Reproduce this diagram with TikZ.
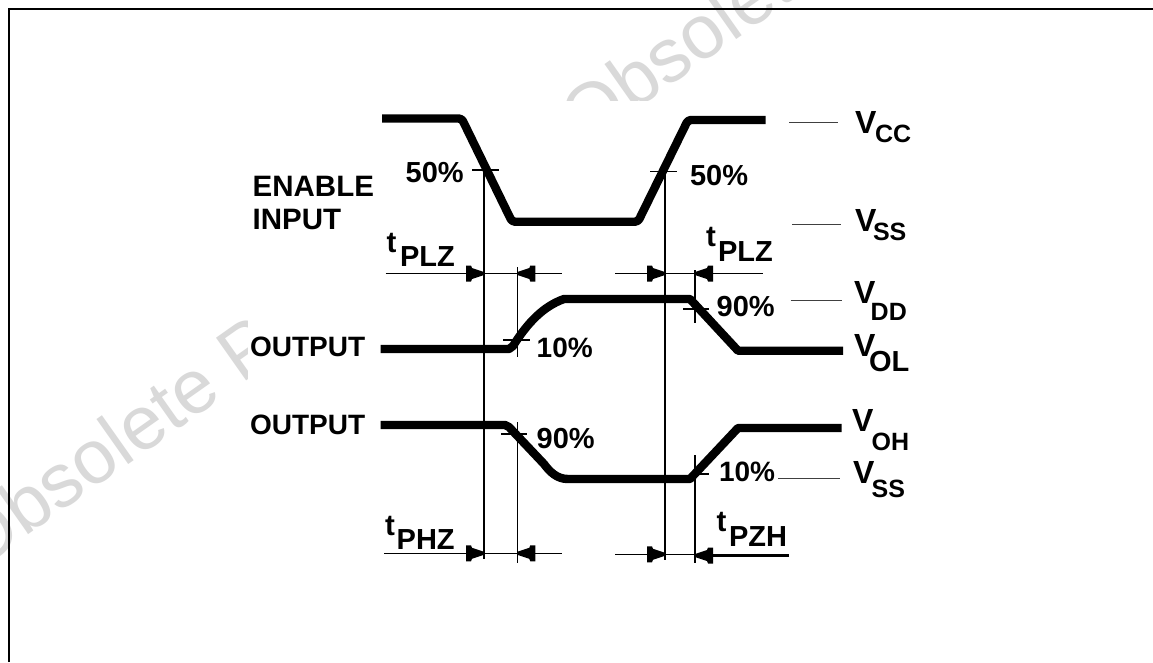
\documentclass[tikz,border=0pt]{standalone}
\usepackage{fontspec}
\setmainfont{Liberation Sans}
\definecolor{wm}{HTML}{D9D9D9}
\tikzset{
  wave/.style={line width=8.4pt,line join=round,rounded corners=3pt},
  thinline/.style={line width=1.2pt,black},
  levelline/.style={line width=1.2pt,black!75},
  dimline/.style={line width=1.1pt,black},
  frameline/.style={line width=2.4pt,black},
  tipshape/.pic={\fill[black] (0,-1.5) -- (-12,-5.5) -- (-13,-8) -- (-18,-8) -- (-18,8) -- (-13,8) -- (-12,5.5) -- (0,1.5) -- cycle;},
  lab/.style={anchor=base west,inner sep=0pt,outer sep=0pt,font=\fontsize{29.5}{29.5}\selectfont\bfseries},
  outlab/.style={lab,font=\fontsize{28}{28}\selectfont\bfseries},
  pct/.style={lab,font=\fontsize{29}{29}\selectfont\bfseries},
  pcts/.style={lab,font=\fontsize{28}{28}\selectfont\bfseries},
  sub/.style={lab,font=\fontsize{29}{29}\selectfont\bfseries},
  subs/.style={lab,font=\fontsize{25}{25}\selectfont\bfseries},
  big/.style={lab,font=\fontsize{32}{32}\selectfont\bfseries},
  watermark/.style={anchor=base west,inner sep=0pt,outer sep=0pt,text=wm,rotate=35.2,font=\fontsize{76}{76}\selectfont}
}
\begin{document}
\begin{tikzpicture}[x=1pt,y=-1pt]
\useasboundingbox (0,0) rectangle (1153,662);
\fill[white] (0,0) rectangle (1153,662);
% watermark
\node[watermark] (wma) at (-24,572) {Obsolete P};
\node[watermark] (wmb) at (584,147) {Obsolet};
\fill[white] (248,101) rectangle (1153,662);
% frame
\draw[frameline] (9,662) -- (9,9) -- (1153,9);
% thin verticals
\draw[thinline] (484,170) -- (484,559);
\draw[thinline] (665,171) -- (665,560);
\draw[thinline] (517.3,267) -- (517.3,357);
\draw[thinline] (517.3,422) -- (517.3,563);
\draw[thinline] (695,270) -- (695,323);
\draw[thinline] (695,455) -- (695,563);
% ticks
\draw[thinline] (472,170) -- (499,170);
\draw[thinline] (650,171.5) -- (677,171.5);
\draw[thinline] (503,340) -- (530,340);
\draw[thinline] (683,309) -- (709,309);
\draw[thinline] (501,434) -- (527,434);
\draw[thinline] (695,474) -- (709,474);
% waveforms
\draw[wave] (382,118.5) -- (461.7,118.5) -- (512,221.7) -- (638,221.7) -- (688,120) -- (765.7,120);
\draw[line width=8.4pt,line join=round] (380.7,349) -- (509,349) -- (513,346) .. controls (528,322) and (544,306) .. (564,299) -- (690,299) -- (738,350.7) -- (843,350.7);
\draw[line width=8.4pt,line join=round] (380.7,425) -- (505,425) -- (509,427) -- (544,464) .. controls (550,472) and (557,479) .. (568,479) -- (690,479) -- (738,428) -- (841.7,428);
% dimension lines
\coordinate (d1a) at (385.7,273.5); \coordinate (d1b) at (484,273.5);
\coordinate (d1c) at (562,273.5); \coordinate (d1d) at (517.3,273.5);
\coordinate (d2a) at (615,273.5); \coordinate (d2b) at (665,273.5);
\coordinate (d2c) at (763,273.5); \coordinate (d2d) at (695,273.5);
\coordinate (d3a) at (384,553.3); \coordinate (d3b) at (484,553.3);
\coordinate (d3c) at (561.7,553.3); \coordinate (d3d) at (517.3,553.3);
\coordinate (d4a) at (615,554.3); \coordinate (d4b) at (665,554.3);
\coordinate (d4c) at (789,555.5); \coordinate (d4d) at (695,555.5);
\coordinate (d4e) at (695,554.3);
\draw[dimline] (d1a) -- (d1b) -- (d1d) -- (d1c);
\draw[dimline] (d2a) -- (d2b) -- (d2d) -- (d2c);
\draw[dimline] (d3a) -- (d3b) -- (d3d) -- (d3c);
\draw[dimline] (d4a) -- (d4b) -- (d4e);
\draw[line width=2.4pt] (d4c) -- (d4d);
\pic at (d1b) {tipshape};
\pic[xscale=-1] at (d1d) {tipshape};
\pic at (d2b) {tipshape};
\pic[xscale=-1] at (d2d) {tipshape};
\pic at (d3b) {tipshape};
\pic[xscale=-1] at (d3d) {tipshape};
\pic at (d4b) {tipshape};
\pic[xscale=-1] at (d4d) {tipshape};
% level lines
\draw[levelline] (789.3,122.7) -- (837.7,122.7);
\draw[levelline] (792,224.3) -- (840.5,224.3);
\draw[levelline] (790.7,300.7) -- (842,300.7);
\draw[levelline] (778,478.7) -- (840,478.7);
% labels
\node[lab] (en) at (252.7,196.7) {ENABLE};
\node[lab] (inp) at (252.7,229) {INPUT};
\node[outlab] (out1) at (250,356.7) {OUTPUT};
\node[outlab] (out2) at (250,434) {OUTPUT};
\node[pct] (p1) at (405.7,182) {50\%};
\node[pct] (p2) at (690,185.7) {50\%};
\node[pcts] (p3) at (536.7,357) {10\%};
\node[pct] (p4) at (716.7,316.7) {90\%};
\node[pct] (p5) at (536.7,448) {90\%};
\node[pcts] (p6) at (719,481.7) {10\%};
\node[lab] (t1) at (386.7,252) {t};
\node[sub] (t1s) at (400,266.7) {PLZ};
\node[lab] (t2) at (706,246.7) {t};
\node[sub] (t2s) at (718,261.7) {PLZ};
\node[lab] (t3) at (385,535) {t};
\node[sub] (t3s) at (396.7,549) {PHZ};
\node[lab] (t4) at (716.7,531.7) {t};
\node[sub] (t4s) at (729,546.7) {PZH};
\node[big] (v1) at (855,133) {V};
\node[subs] (v1s) at (875,142.7) {CC};
\node[big] (v2) at (855,231.7) {V};
\node[subs] (v2s) at (873,240) {SS};
\node[big] (v3) at (854,303) {V};
\node[subs] (v3s) at (870.7,320) {DD};
\node[big] (v4) at (854,356.7) {V};
\node[sub] (v4s) at (869,371) {OL};
\node[big] (v5) at (852,431.7) {V};
\node[subs] (v5s) at (871.7,450.7) {OH};
\node[big] (v6) at (853,483) {V};
\node[subs] (v6s) at (871.7,497.3) {SS};
\end{tikzpicture}
\end{document}
